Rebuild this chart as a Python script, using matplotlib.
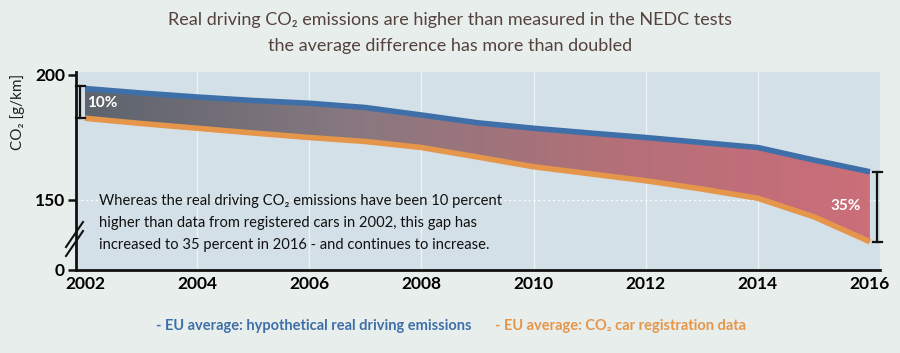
import numpy as np
import matplotlib
matplotlib.use("Agg")
import matplotlib.pyplot as plt
from matplotlib.colors import LinearSegmentedColormap
from matplotlib.patches import PathPatch
from matplotlib.path import Path

years = [2002, 2003, 2004, 2005, 2006, 2007, 2008, 2009, 2010, 2011, 2012, 2013, 2014, 2015, 2016]
real_driving = [194.6, 192.8, 191.2, 189.8, 188.7, 187.0, 184.0, 180.9, 178.7, 176.8, 175.0, 173.0, 171.0, 166.0, 161.3]
registration = [182.7, 180.6, 178.7, 176.8, 175.0, 173.4, 171.0, 167.2, 163.3, 160.5, 157.7, 154.4, 150.7, 143.3, 133.3]
xtick_years = [2002, 2004, 2006, 2008, 2010, 2012, 2014, 2016]
ytick_labels = ["0", "150", "200"]
gap_labels = ["10%", "35%"]
title_lines = ["Real driving CO₂ emissions are higher than measured in the NEDC tests",
               "the average difference has more than doubled"]
note_text = ("Whereas the real driving CO₂ emissions have been 10 percent\n"
             "higher than data from registered cars in 2002, this gap has\n"
             "increased to 35 percent in 2016 - and continues to increase.")
legend_real = "- EU average: hypothetical real driving emissions"
legend_reg = "- EU average: CO₂ car registration data"
ylabel_text = "CO₂ [g/km]"

BREAK_ZERO = 122.0  # displayed position of the "0" tick on the broken axis

BG = "#e8eeec"
AX_BG = "#d3e0e7"
BLUE = "#3f6fa8"
ORANGE = "#e5964a"
TITLE_C = "#54423d"
FAM = ['Lato', 'DejaVu Sans']

plt.rcParams['font.family'] = FAM

fig = plt.figure(figsize=(9.0, 3.53), dpi=100, facecolor=BG)
ax = fig.add_axes([76/900, 1-270/353, (880-76)/900, (270-72)/353])
ax.set_facecolor(AX_BG)

x = np.array(years, dtype=float)
top = np.array(real_driving)
bot = np.array(registration)

xmin, xmax = 2001.84, 2016.18
ymin, ymax = BREAK_ZERO, 201.2
ax.set_xlim(xmin, xmax)
ax.set_ylim(ymin, ymax)

# grid
for yr in xtick_years[1:-1]:
    ax.axvline(yr, color="white", lw=1.0, alpha=0.6, zorder=1)
ax.axhline(150, color="white", lw=1.0, ls=(0, (1.5, 2)), alpha=0.9, zorder=1)

# gradient fill between the lines
verts = np.vstack([np.column_stack([x, top]), np.column_stack([x[::-1], bot[::-1]])])
clip = PathPatch(Path(np.vstack([verts, verts[:1]]), closed=False), transform=ax.transData,
                 facecolor="none", edgecolor="none")
ax.add_patch(clip)
cmap = LinearSegmentedColormap.from_list("g", ["#5d646e", "#877880", "#b37078", "#cb6e7a"])
grad = np.linspace(0, 1, 256).reshape(1, -1)
im = ax.imshow(grad, cmap=cmap, aspect="auto", extent=[x[0], x[-1], ymin, ymax],
               origin="lower", zorder=2, interpolation="bilinear")
im.set_clip_path(clip)

ax.plot(x, top, color=BLUE, lw=4, solid_capstyle="butt", zorder=3)
ax.plot(x, bot, color=ORANGE, lw=4, solid_capstyle="butt", zorder=3)

# gap brackets
for xi, t, b in [(x[0] - 0.08, top[0] + 1.0, bot[0]), (x[-1] + 0.13, top[-1], bot[-1] - 0.3)]:
    ax.plot([xi, xi], [b, t], color="#111111", lw=1.6, zorder=4, clip_on=False)
    for yy in (b, t):
        ax.plot([xi - 0.08, xi + 0.08], [yy, yy], color="#111111", lw=1.6, zorder=4, clip_on=False)

ax.text(x[0] + 0.03, (top[0] + bot[0]) / 2 + 0.3, gap_labels[0], color="white",
        fontsize=11, fontweight="bold", va="center", ha="left", zorder=5)
ax.text(x[-1] - 0.17, (top[-1] + bot[-1]) / 2 + 0.3, gap_labels[1], color="white",
        fontsize=11, fontweight="bold", va="center", ha="right", zorder=5)

ax.text(2002.25, 140.7, note_text, fontsize=10.6, color="#111111", va="center", ha="left",
        linespacing=1.75, zorder=5)

# axes styling
for s in ("top", "right"):
    ax.spines[s].set_visible(False)
for s in ("left", "bottom"):
    ax.spines[s].set_linewidth(2)
    ax.spines[s].set_color("#111111")
ax.set_yticks([BREAK_ZERO, 150, 200])
ax.set_yticklabels(ytick_labels, fontsize=12.5, fontweight="bold")
ax.tick_params(axis="y", length=6, width=1.8, pad=2, color="#111111")
ax.set_xticks(xtick_years)
ax.set_xticklabels([str(v) for v in xtick_years], fontsize=12.5, fontweight="bold")
ax.tick_params(axis="x", length=0, pad=4)
ax.set_ylabel(ylabel_text, fontsize=11, color="#222222")
ax.yaxis.set_label_coords(-0.064, 0.80)

# axis break marks
for dy in (0, 9):
    fig.add_artist(plt.Line2D([66/900, 83/900], [1-(247+dy)/353, 1-(222+dy)/353],
                              color="#111111", lw=1.5))

# title
fig.text(0.5, 1-20/353, title_lines[0], ha="center", va="center", fontsize=13,
         color=TITLE_C)
fig.text(0.5, 1-46/353, title_lines[1], ha="center", va="center", fontsize=13,
         color=TITLE_C)

# legend texts
fig.text(156/900, 1-326/353, legend_real, ha="left", va="center", fontsize=10.5,
         fontweight="bold", color=BLUE)
fig.text(495/900, 1-326/353, legend_reg, ha="left", va="center", fontsize=10.5,
         fontweight="bold", color=ORANGE)

fig.savefig("out.png", dpi=100, facecolor=BG)
